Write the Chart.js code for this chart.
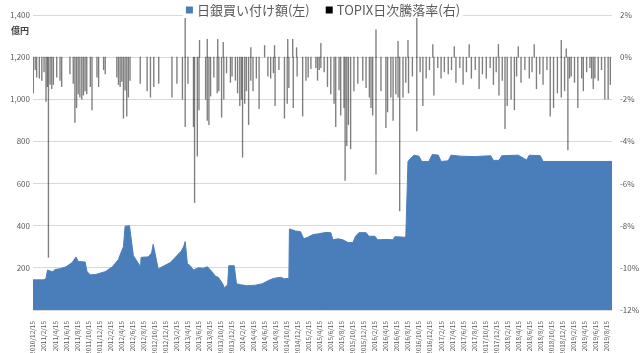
<!DOCTYPE html>
<html>
<head>
<meta charset="utf-8">
<script src="https://cdn.jsdelivr.net/npm/chart.js@4/dist/chart.umd.min.js"></script>
<style>
  html, body { margin: 0; padding: 0; background: #fff; }
</style>
</head>
<body>
<canvas id="chart" width="640" height="353"></canvas>
<script>
// x values are months counted from 2010/12/15
const tickLabels = [
  '2010/12/15', '2011/2/15', '2011/4/15', '2011/6/15', '2011/8/15', '2011/10/15', '2011/12/15',
  '2012/2/15', '2012/4/15', '2012/6/15', '2012/8/15', '2012/10/15', '2012/12/15',
  '2013/2/15', '2013/4/15', '2013/6/15', '2013/8/15', '2013/10/15', '2013/12/15',
  '2014/2/15', '2014/4/15', '2014/6/15', '2014/8/15', '2014/10/15', '2014/12/15',
  '2015/2/15', '2015/4/15', '2015/6/15', '2015/8/15', '2015/10/15', '2015/12/15',
  '2016/2/15', '2016/4/15', '2016/6/15', '2016/8/15', '2016/10/15', '2016/12/15',
  '2017/2/15', '2017/4/15', '2017/6/15', '2017/8/15', '2017/10/15', '2017/12/15',
  '2018/2/15', '2018/4/15', '2018/6/15', '2018/8/15', '2018/10/15', '2018/12/15',
  '2019/2/15', '2019/4/15', '2019/6/15', '2019/8/15'
];

// 日銀買い付け額 (億円)
const buyMonths = [
  0, 2.0, 2.36, 2.64, 3.1, 3.6, 4.0, 4.9, 6.0, 7.1, 7.8, 8.2, 9.45, 9.8, 10.4, 11.3, 13.1, 14.4,
  15.5, 16.0, 16.4, 16.7, 17.5, 18.2, 19.5, 19.6, 20.9, 21.5, 21.8, 22.7, 24.9, 26.9, 27.3, 27.6,
  28.0, 28.5, 29.1, 30.0, 30.9, 31.6, 32.2, 32.5, 33.1, 33.6, 34.4, 34.7, 35.3, 35.5, 36.5, 36.9,
  37.6, 38.9, 40.4, 41.6, 42.7, 43.6, 44.9, 45.6, 46.4, 46.5, 47.6, 48.5, 49.1, 49.8, 50.7, 51.8,
  53.1, 54.0, 54.4, 55.3, 56.2, 57.1, 58.0, 58.5, 59.1, 60.4, 60.9, 62.0, 62.5, 64.0, 65.3, 65.6,
  67.6, 68.0, 68.5, 69.1, 70.0, 70.5, 71.8, 72.4, 73.5, 74.0, 75.3, 75.8, 77.6, 80.0, 83.0, 83.5,
  84.5, 85.0, 88.0, 89.5, 90.0, 92.0, 92.5, 105
];
const buyValues = [
  143, 143, 150, 190, 185, 182, 192, 196, 205, 225, 252, 230, 228, 182, 167, 168, 182, 205,
  240, 275, 300, 398, 400, 258, 205, 250, 252, 270, 312, 195, 225, 280, 300, 325,
  220, 210, 190, 200, 198, 205, 190, 180, 160, 155, 125, 105, 120, 210, 210, 125,
  120, 115, 118, 125, 140, 150, 155, 148, 150, 385, 375, 372, 338, 345, 357, 362,
  368, 367, 333, 338, 333, 320, 320, 350, 367, 367, 350, 350, 333, 335, 333, 348,
  345, 705, 720, 735, 730, 705, 705, 738, 735, 705, 708, 735, 730, 728, 732, 710,
  710, 732, 735, 712, 735, 732, 705, 705
];

// TOPIX日次騰落率 (%)
const dropMonths = [
  0.06, 0.4, 0.67, 1.15, 1.6, 2.0, 2.36, 2.6, 2.8, 3.1, 3.4, 3.7, 4.3, 4.9, 5.2, 6.7, 7.3, 7.6, 7.9, 8.2,
  8.5, 8.85, 9.15, 9.45, 9.75, 10.4, 10.7, 11.6, 11.9, 12.8, 13.1, 15.2, 15.5, 15.8, 16.1, 16.4,
  16.7, 17.0, 17.3, 17.6, 19.45, 20.7, 21.3, 21.9, 22.8, 25.2, 26.1, 27.1, 27.6, 27.6, 28.1, 29.1,
  29.3, 29.8, 30.1, 30.2, 31.3, 31.6, 31.6, 31.9, 32.2, 32.8, 33.4, 33.5, 33.7, 34.2, 34.5, 34.6,
  35.1, 35.8, 36.1, 36.7, 37.1, 37.5, 37.8, 38.0, 38.4, 38.7, 39.1, 39.5, 39.5, 39.9, 40.5, 41.0,
  42.0, 42.6, 43.1, 43.6, 43.8, 43.9, 44.6, 45.6, 46.1, 46.2, 46.4, 47.1, 47.2, 47.8, 47.9, 48.9,
  49.5, 49.9, 50.4, 51.3, 51.6, 51.9, 52.2, 52.2, 52.8, 53.4, 54.0, 54.6, 54.9, 55.5, 55.8, 56.4,
  56.6, 56.9, 57.2, 57.6, 58.2, 58.9, 59.8, 60.4, 61.0, 61.3, 61.6, 62.2, 62.2, 63.1, 64.0, 64.3,
  64.9, 65.3, 65.8, 66.2, 66.2, 66.5, 67.1, 67.6, 68.0, 68.1, 68.8, 69.6, 69.6, 70.2, 70.7, 71.3, 71.9, 72.5,
  72.7, 73.4, 74.0, 74.6, 75.3, 75.9, 76.4, 76.7, 77.4, 78.0, 78.6, 79.1, 79.5, 80.2, 80.9, 81.5, 82.2, 82.9,
  83.5, 84.0, 84.4, 84.5, 85.1, 85.6, 86.0, 86.7, 87.3, 87.7, 88.0, 88.5, 89.2, 90.0, 90.5, 90.9, 91.3, 91.9,
  92.5, 93.2, 93.8, 94.4, 95.1, 95.8, 95.8, 96.4, 96.7, 97.0, 97.3, 97.6, 98.2, 98.8, 99.5, 99.8,
  100.4, 101.0, 101.3, 101.6, 101.9, 102.5, 103.1, 103.7, 104.3, 104.7
];
const dropValues = [
  -1.7, -0.6, -0.95, -1.0, -1.1, -0.7, -2.1, -1.4, -9.5, -1.3, -1.5, -1.3, -0.95, -1.1, -1.4, -0.8, -1.25, -3.1, -2.4, -1.75,
  -1.9, -2.0, -1.8, -1.6, -1.75, -1.4, -2.5, -0.95, -1.4, -0.6, -0.8, -0.95, -1.3, -1.4, -1.15, -2.9,
  -1.57, -2.8, -1.9, -1.1, -1.25, -1.6, -1.9, -1.4, -1.25, -1.9, -1.25, -2.0, -3.3, 2.3, -1.25, -3.3,
  -6.9, -4.7, -2.5, 0.8, -2.0, -3.0, 0.85, -3.2, -1.85, -0.95, -1.7, 0.85, -1.6, -2.85, 0.7, -2.0,
  -0.75, -1.2, -0.9, -1.1, -1.7, -2.3, -2.0, -4.75, -2.2, -1.6, -3.2, -1.1, 0.45, -1.6, -1.0, -2.45,
  0.55, -0.9, -1.0, -0.75, 0.55, -2.3, -0.6, -2.9, -2.2, 0.85, -1.45, 0.85, -2.4, 0.45, -0.9, -2.8,
  -1.1, -0.95, -0.55, -0.5, -1.1, -0.6, -0.5, 0.65, -0.7, -1.4, -1.75, -2.2, -3.3, -1.55, -2.75, -2.4,
  -5.85, -4.2, -3.2, -4.35, -1.6, -1.25, -1.1, -1.45, -1.9, -2.4, -2.75, -5.55, 1.3, -1.6, -3.35, -2.6,
  -1.9, -3.0, -1.75, -1.9, 0.75, -7.3, -1.9, -1.2, 0.8, -1.7, -0.9, 2.5, -3.5, -0.7, -2.3, -1.0, -0.6, 0.6,
  -1.8, -0.5, -1.0, -0.7, -0.8, -0.6, 0.5, -1.2, -0.5, -1.3, -0.7, 0.6, -1.0, -0.6, -1.5, -0.8, -1.0, -0.5,
  -1.3, -0.7, 0.6, -1.8, -1.1, -3.4, -2.3, -2.0, -2.5, -0.9, 0.5, -1.2, -0.6, -1.0, -0.7, 0.6, -1.5, -0.8,
  -1.3, -0.6, -2.8, -2.4, -1.7, -1.9, 0.8, -1.6, 0.4, -4.4, -1.0, -0.9, -1.2, -2.4, -1.0, -1.6,
  -0.7, -0.5, -1.0, -1.5, -1.0, -1.1, -0.6, -2.0, -2.0, -1.3
];

const textColor = '#595959';
const jpFont = '"Noto Sans CJK JP", "Noto Sans", sans-serif';

// legend + unit label drawn over the top of the plot, like the original
const topLegend = {
    id: 'topLegend',
    afterDraw(chart) {
        const ctx = chart.ctx;
        const items = chart.data.datasets.slice().reverse();
        ctx.save();
        ctx.font = '13px ' + jpFont;
        ctx.textBaseline = 'middle';
        const box = 7, gap = 4, spacing = 16;
        let total = 0;
        items.forEach((ds, i) => {
            total += box + gap + ctx.measureText(ds.label).width;
            if (i < items.length - 1) total += spacing;
        });
        let x = (chart.width - total) / 2 + 3;
        const y = 10;
        ctx.fillStyle = '#fff';
        ctx.fillRect(x - 3, 2, total + 6, 16);
        items.forEach(ds => {
            ctx.fillStyle = ds.legendColor;
            ctx.fillRect(x, y - box / 2, box, box);
            x += box + gap;
            ctx.fillStyle = textColor;
            ctx.fillText(ds.label, x, y);
            x += ctx.measureText(ds.label).width + spacing;
        });
        ctx.font = 'bold 9px ' + jpFont;
        ctx.fillStyle = '#404040';
        ctx.textAlign = 'left';
        ctx.fillText('億円', 11, 31);
        ctx.restore();
    }
};

new Chart(document.getElementById('chart'), {
    type: 'bar',
    data: {
        datasets: [
            {
                type: 'bar',
                label: 'TOPIX日次騰落率(右)',
                legendColor: '#000',
                data: dropMonths.map((m, i) => ({ x: m, y: dropValues[i] })),
                yAxisID: 'y1',
                backgroundColor: 'rgba(40,40,40,0.6)',
                borderWidth: 0,
                barThickness: 0.7,
                grouped: false
            },
            {
                type: 'line',
                label: '日銀買い付け額(左)',
                legendColor: '#4a7ebb',
                data: buyMonths.map((m, i) => ({ x: m, y: buyValues[i] })),
                yAxisID: 'y',
                borderColor: '#4a7ebb',
                backgroundColor: '#4a7ebb',
                borderWidth: 1,
                fill: 'origin',
                pointRadius: 0,
                tension: 0
            }
        ]
    },
    options: {
        responsive: false,
        animation: false,
        layout: { padding: { top: 15, left: 0, right: 0, bottom: 0 } },
        plugins: {
            legend: { display: false },
            tooltip: { enabled: false }
        },
        scales: {
            x: {
                type: 'linear',
                min: 0,
                max: 105,
                offset: false,
                grid: { display: false, offset: false },
                border: { display: false },
                afterBuildTicks: scale => {
                    scale.ticks = tickLabels.map((_, i) => ({ value: i * 2 }));
                },
                afterFit: scale => {
                    scale.height = 43;
                    scale.paddingLeft = 0;
                    scale.paddingRight = 0;
                },
                ticks: {
                    autoSkip: false,
                    minRotation: 90,
                    maxRotation: 90,
                    padding: 3,
                    color: textColor,
                    font: { size: 6.5, family: jpFont },
                    callback: v => tickLabels[Math.round(v / 2)] || ''
                }
            },
            y: {
                position: 'left',
                min: 0,
                max: 1400,
                afterFit: scale => { scale.width = 33; },
                grid: { color: '#d9d9d9', drawTicks: false },
                border: { display: false },
                ticks: {
                    stepSize: 200,
                    padding: 3,
                    color: textColor,
                    font: { size: 8, family: jpFont },
                    callback: v => v === 0 ? '' : v.toLocaleString('en-US')
                }
            },
            y1: {
                position: 'right',
                min: -12,
                max: 2,
                afterFit: scale => { scale.width = 28; },
                grid: { display: false, drawTicks: false },
                border: { display: false },
                ticks: {
                    stepSize: 2,
                    padding: 8,
                    color: textColor,
                    font: { size: 8, family: jpFont },
                    callback: v => v + '%'
                }
            }
        }
    },
    plugins: [topLegend]
});
</script>
</body>
</html>
